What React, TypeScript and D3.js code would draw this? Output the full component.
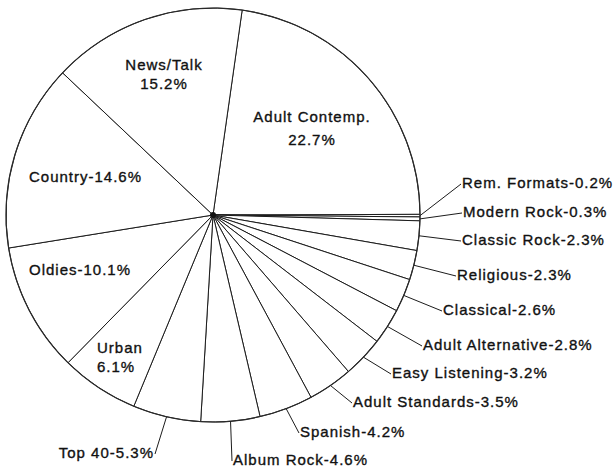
import React, { useEffect, useRef } from "react";
import * as d3 from "d3";

// ---- data ----
const categories = [
  "Adult Contemp.",
  "Rem. Formats",
  "Modern Rock",
  "Classic Rock",
  "Religious",
  "Classical",
  "Adult Alternative",
  "Easy Listening",
  "Adult Standards",
  "Spanish",
  "Album Rock",
  "Top 40",
  "Urban",
  "Oldies",
  "Country",
  "News/Talk",
];
const values = [22.7, 0.2, 0.3, 2.3, 2.3, 2.6, 2.8, 3.2, 3.5, 4.2, 4.6, 5.3, 6.1, 10.1, 14.6, 15.2];

// ---- label layout (positions only) ----
type Lay = { x: number; y: number; anchor: "start" | "middle" | "end"; stacked: boolean; gap?: number; leader: boolean };
const labelLayout: Lay[] = [
  { x: 312, y: 122, anchor: "middle", stacked: true, gap: 23, leader: false },
  { x: 462, y: 188, anchor: "start", stacked: false, leader: true },
  { x: 463, y: 217, anchor: "start", stacked: false, leader: true },
  { x: 462, y: 245, anchor: "start", stacked: false, leader: true },
  { x: 457, y: 280, anchor: "start", stacked: false, leader: true },
  { x: 443, y: 315, anchor: "start", stacked: false, leader: true },
  { x: 423, y: 350, anchor: "start", stacked: false, leader: true },
  { x: 392, y: 378, anchor: "start", stacked: false, leader: true },
  { x: 353, y: 407, anchor: "start", stacked: false, leader: true },
  { x: 300, y: 437, anchor: "start", stacked: false, leader: true },
  { x: 233, y: 465, anchor: "start", stacked: false, leader: true },
  { x: 154, y: 458, anchor: "end", stacked: false, leader: true },
  { x: 97, y: 353, anchor: "start", stacked: true, gap: 19, leader: false },
  { x: 29, y: 275, anchor: "start", stacked: false, leader: false },
  { x: 29, y: 182, anchor: "start", stacked: false, leader: false },
  { x: 164, y: 70, anchor: "middle", stacked: true, gap: 19, leader: false },
];

const W = 613;
const H = 467;
const CX = 213;
const CY = 215;
const R = 207;
const START_DEG = 8.1;

export default function App() {
  const ref = useRef<SVGSVGElement | null>(null);

  useEffect(() => {
    const svg = d3.select(ref.current);
    svg.selectAll("*").remove();

    const data = categories.map((c, i) => ({ name: c, value: values[i], lay: labelLayout[i] }));
    const start = (START_DEG * Math.PI) / 180;
    const pie = d3
      .pie<any>()
      .sort(null)
      .value((d: any) => d.value)
      .startAngle(start)
      .endAngle(start + 2 * Math.PI);
    const arcs = pie(data);

    const arc = d3.arc<any>().innerRadius(0).outerRadius(R);
    const edgeArc = d3.arc<any>().innerRadius(R).outerRadius(R);

    const g = svg.append("g").attr("transform", `translate(${CX},${CY})`);

    g.selectAll("path.slice")
      .data(arcs)
      .join("path")
      .attr("class", "slice")
      .attr("d", arc as any)
      .attr("fill", "#ffffff")
      .attr("stroke", "#1c1c1c")
      .attr("stroke-width", 1)
      .attr("stroke-linejoin", "round");

    g.append("circle")
      .attr("r", R)
      .attr("fill", "none")
      .attr("stroke", "#2a2a2a")
      .attr("stroke-width", 1.2);

    g.append("circle").attr("r", 3).attr("fill", "#111");

    const top = svg.append("g");

    arcs.forEach((a: any) => {
      const lay: Lay = a.data.lay;
      const pct = a.data.value.toFixed(1) + "%";
      if (lay.leader) {
        const [ex, ey] = edgeArc.centroid(a);
        const lx = lay.anchor === "end" ? lay.x + 1 : lay.x - 1;
        const ly = lay.y - 4;
        top
          .append("line")
          .attr("x1", CX + ex)
          .attr("y1", CY + ey)
          .attr("x2", lx)
          .attr("y2", ly)
          .attr("stroke", "#1c1c1c")
          .attr("stroke-width", 1);
      }
      const t = top
        .append("text")
        .attr("x", lay.x)
        .attr("y", lay.y)
        .attr("text-anchor", lay.anchor)
        .attr("font-family", "'Liberation Sans', Arial, Helvetica, sans-serif")
        .attr("font-size", 15)
        .attr("letter-spacing", 1)
        .attr("fill", "#111")
        .attr("stroke", "#111")
        .attr("stroke-width", 0.35);
      if (lay.stacked) {
        t.append("tspan").attr("x", lay.x).attr("dy", 0).text(a.data.name);
        t.append("tspan").attr("x", lay.x).attr("dy", lay.gap || 19).text(pct);
      } else {
        t.text(`${a.data.name}-${pct}`);
      }
    });
  }, []);

  return (
    <svg
      ref={ref}
      width={W}
      height={H}
      style={{ position: "absolute", left: 0, top: 0, background: "#ffffff" }}
    />
  );
}
